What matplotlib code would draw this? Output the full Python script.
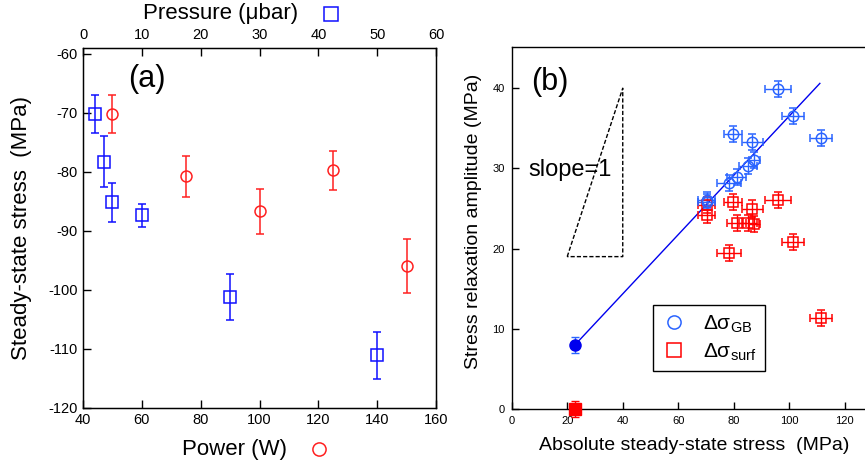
import matplotlib
matplotlib.use("Agg")
import matplotlib.pyplot as plt
from matplotlib.lines import Line2D

plt.rcParams['font.family'] = ['Liberation Sans', 'DejaVu Sans']
plt.rcParams['mathtext.fontset'] = 'custom'
plt.rcParams['mathtext.rm'] = 'Liberation Sans'
plt.rcParams['axes.unicode_minus'] = False

# ---------------- Data: panel (a) ----------------
pressure_ubar = [2, 3.5, 5, 10, 25, 50]
stress_pressure = [-70.2, -78.3, -85.2, -87.4, -101.3, -111.1]
err_pressure = [3.2, 4.3, 3.3, 2.0, 3.9, 4.0]

power_w = [50, 75, 100, 125, 150]
stress_power = [-70.2, -80.8, -86.7, -79.8, -96.0]
err_power = [3.2, 3.5, 3.8, 3.3, 4.6]

# ---------------- Data: panel (b) ----------------
abs_stress = [70.2, 70.2, 78.4, 79.8, 81.0, 85.2, 86.7, 87.4, 96.0, 101.4, 111.3]
abs_stress_err = [3.2, 3.2, 4.3, 3.3, 3.5, 3.3, 3.8, 2.0, 4.6, 3.9, 4.0]
d_sigma_gb = [26.1, 25.8, 28.2, 34.3, 28.9, 30.3, 33.3, 31.0, 39.9, 36.5, 33.8]
d_sigma_surf = [25.4, 24.2, 19.4, 25.8, 23.2, 23.2, 25.0, 23.1, 26.1, 20.8, 11.4]
amp_err = 1.0

ref_x = [22.8]
ref_gb = [8.0]
ref_surf = [0.0]
ref_err = [1.0]

fit_x = [22.8, 111.0]
fit_y = [8.0, 40.6]

tri_x = [20, 40, 40, 20]
tri_y = [19, 40, 19, 19]

BLUE_A = '#1010ff'
RED = '#ff2020'
BLUE_B = '#2a64ff'

W, H = 865, 466
fig = plt.figure(figsize=(W / 100, H / 100), dpi=100)

# ---------------- Panel (a) ----------------
axa = fig.add_axes([83 / W, 1 - 407.7 / H, (436 - 83) / W, (407.7 - 47.7) / H])
axa.set_xlim(40, 160)
axa.set_ylim(-120, -59)
axa.set_xticks([40, 60, 80, 100, 120, 140, 160])
axa.set_yticks([-120, -110, -100, -90, -80, -70, -60])
axa.tick_params(direction='in', length=6, width=1, labelsize=10.5, pad=4,
                top=False, right=False)
for s in axa.spines.values():
    s.set_linewidth(1.0)

axa.errorbar(power_w, stress_power, yerr=err_power, fmt='o', ms=7.9,
             mfc='none', mec=RED, mew=1.1, ecolor=RED, elinewidth=1.1,
             capsize=3, capthick=1.1, zorder=3)

axt = axa.twiny()
axt.set_xlim(0, 60)
axt.set_xticks([0, 10, 20, 30, 40, 50, 60])
axt.tick_params(direction='in', length=6, width=1, labelsize=10.5, pad=4)
axt.errorbar(pressure_ubar, stress_pressure, yerr=err_pressure, fmt='s', ms=8,
             mfc='none', mec=BLUE_A, mew=1.1, ecolor=BLUE_A, elinewidth=1.1,
             capsize=3, capthick=1.1, zorder=3)

axa.text(0.127, 0.913, '(a)', transform=axa.transAxes, fontsize=22,
         ha='left', va='center')

fig.text(22 / W, 1 - 228.5 / H, 'Steady-state stress  (MPa)', rotation=90,
         ha='center', va='center', fontsize=16)
fig.text(235 / W, 1 - 449 / H, 'Power (W)', ha='center', va='center', fontsize=16)
fig.add_artist(Line2D([319 / W], [1 - 449 / H], marker='o', ms=9.5, mfc='none',
                      mec=RED, mew=1.1, transform=fig.transFigure))
fig.text(220.5 / W, 1 - 14 / H, 'Pressure (μbar)', ha='center', va='center', fontsize=16)
fig.add_artist(Line2D([331 / W], [1 - 14 / H], marker='s', ms=9.5, mfc='none',
                      mec=BLUE_A, mew=1.1, transform=fig.transFigure))

# ---------------- Panel (b) ----------------
axb = fig.add_axes([511.7 / W, 1 - 409 / H, (872.6 - 511.7) / W, (409 - 47.3) / H])
axb.set_xlim(0, 130)
axb.set_ylim(0, 45.1)
axb.set_xticks([0, 20, 40, 60, 80, 100, 120])
axb.set_yticks([0, 10, 20, 30, 40])
axb.tick_params(direction='in', length=5, width=1, labelsize=8, pad=5,
                top=False, right=False)
for s in axb.spines.values():
    s.set_linewidth(1.0)

axb.plot(tri_x, tri_y, ls=(0, (3, 1.5)), color='black', lw=1.0)
axb.text(6, 29.8, 'slope=1', fontsize=17, ha='left', va='center')

axb.plot(fit_x, fit_y, color='#0000ee', lw=1.0, zorder=2)

axb.errorbar(abs_stress, d_sigma_surf, xerr=abs_stress_err, yerr=amp_err, fmt='s',
             ms=7.5, mfc='none', mec='red', mew=1.1, ecolor='red', elinewidth=1.0,
             capsize=3, capthick=1.0, zorder=3)
axb.errorbar(abs_stress, d_sigma_gb, xerr=abs_stress_err, yerr=amp_err, fmt='o',
             ms=7.5, mfc='none', mec=BLUE_B, mew=1.1, ecolor=BLUE_B, elinewidth=1.0,
             capsize=3, capthick=1.0, zorder=3)

axb.errorbar(ref_x, ref_gb, yerr=ref_err, fmt='o', ms=8, color='#0000ee',
             ecolor=BLUE_B, elinewidth=1.0, capsize=3, zorder=4)
axb.errorbar(ref_x, ref_surf, yerr=ref_err, fmt='s', ms=8, color='red',
             ecolor='red', elinewidth=1.0, capsize=3, zorder=4, clip_on=False)

axb.text(0.055, 0.905, '(b)', transform=axb.transAxes, fontsize=22,
         ha='left', va='center')

handles = [
    Line2D([], [], ls='none', marker='o', ms=9.5, mfc='none', mec=BLUE_B, mew=1.1),
    Line2D([], [], ls='none', marker='s', ms=9.5, mfc='none', mec='red', mew=1.1),
]
labels = ['Δσ$_\\mathregular{GB}$', 'Δσ$_\\mathregular{surf}$']
leg = axb.legend(handles, labels, loc='lower left', bbox_to_anchor=(0.392, 0.105),
                 borderaxespad=0, fontsize=15, frameon=True, fancybox=False,
                 edgecolor='black', framealpha=1, handlelength=1.2,
                 handletextpad=0.8, labelspacing=0.3, borderpad=0.4)
leg.get_frame().set_linewidth(1.0)

fig.text(474 / W, 1 - 221 / H, 'Stress relaxation amplitude (MPa)', rotation=90,
         ha='center', va='center', fontsize=14)
fig.text(694.5 / W, 1 - 445 / H, 'Absolute steady-state stress  (MPa)',
         ha='center', va='center', fontsize=14)

fig.savefig('out.png', dpi=100)
